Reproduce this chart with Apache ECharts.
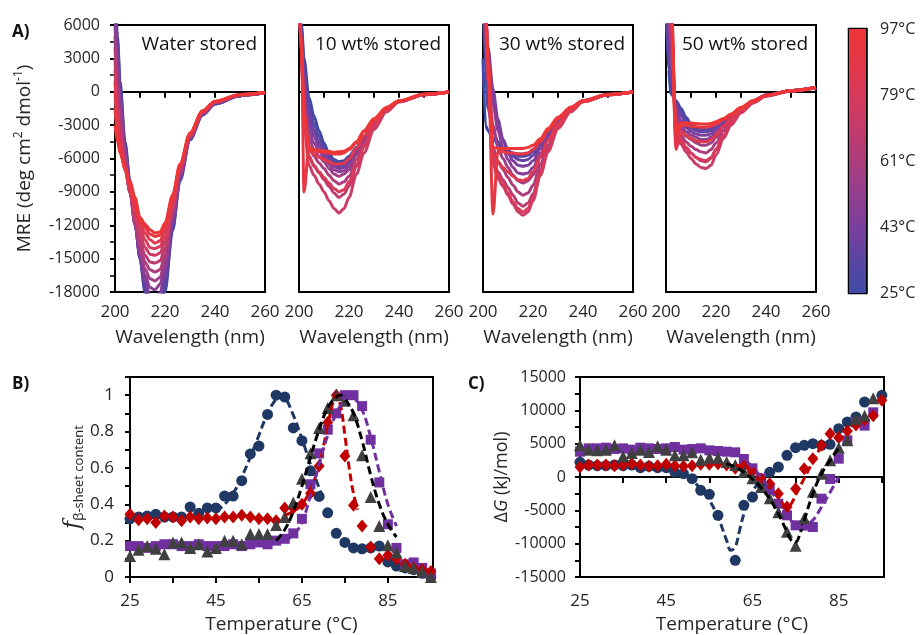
<!DOCTYPE html>
<html>
<head>
<meta charset="utf-8">
<script src="https://cdn.jsdelivr.net/npm/echarts@6/dist/echarts.min.js"></script>
<style>
  html, body { margin: 0; background: #fff; }
  #chart { width: 920px; height: 635px; }
</style>
</head>
<body>
<div id="chart"></div>
<script>
// ---- panel A: CD spectra, one curve per temperature ----
var wavelength = [200, 201, 202, 204, 206, 208, 210, 212, 214, 216, 218, 220, 223, 226, 230, 235, 240, 250, 260];
var cdTemps = [25, 31, 37, 43, 49, 55, 61, 67, 73, 79, 85, 91, 97];
var colorbarTicks = [25, 43, 61, 79, 97];

var waterStored = [
  [9000, 5000, 1000, -4500, -8000, -11500, -15000, -18000, -20000, -20500, -20000, -18000, -12500, -8000, -4300, -2100, -1100, -350, -100],
  [8500, 4500, 500, -4800, -8300, -11700, -15000, -17800, -19600, -20000, -19500, -17500, -12300, -7900, -4300, -2100, -1100, -350, -100],
  [8000, 4000, 0, -5000, -8500, -11800, -14900, -17400, -19000, -19300, -18800, -16900, -12000, -7700, -4200, -2050, -1050, -330, -100],
  [7000, 3000, -500, -5200, -8700, -11900, -14800, -17000, -18400, -18600, -18100, -16300, -11700, -7600, -4200, -2000, -1000, -320, -90],
  [6000, 2000, -1200, -5500, -8900, -12000, -14600, -16500, -17600, -17800, -17300, -15700, -11400, -7500, -4100, -2000, -1000, -310, -90],
  [5000, 1000, -2000, -5800, -9000, -11900, -14200, -15900, -16800, -17000, -16700, -15200, -11100, -7300, -4100, -1950, -980, -300, -80],
  [4000, 0, -2800, -6100, -9100, -11700, -13800, -15300, -16000, -16200, -16000, -14700, -10800, -7200, -4000, -1900, -960, -290, -80],
  [3000, -1000, -3500, -6500, -9100, -11400, -13300, -14700, -15300, -15400, -15200, -14100, -10600, -7000, -3950, -1880, -940, -280, -70],
  [2000, -1800, -4000, -6900, -9000, -11000, -12700, -14000, -14600, -14700, -14500, -13500, -10300, -6900, -3900, -1850, -920, -270, -70],
  [1000, -2500, -4500, -7000, -8800, -10700, -12200, -13300, -14000, -14100, -13900, -13000, -10000, -6800, -3850, -1800, -900, -260, -60],
  [0, -3200, -4900, -7000, -8600, -10300, -11800, -12700, -13300, -13600, -13400, -12500, -9700, -6700, -3800, -1780, -880, -260, -60],
  [-1500, -3800, -5200, -6900, -8300, -9900, -11500, -12200, -12800, -13000, -12900, -12100, -9500, -6600, -3750, -1750, -870, -250, -50],
  [-3000, -4500, -5500, -6800, -8000, -9500, -11300, -11900, -12400, -12700, -12600, -11800, -9300, -6500, -3700, -1700, -850, -250, -50]
];
var stored10 = [
  [9000, 6000, 3000, -500, -2200, -3500, -4600, -5600, -6100, -6300, -6200, -5800, -5000, -4000, -2800, -1600, -850, -250, -30],
  [9000, 5500, 2200, -1200, -2900, -4000, -5000, -5800, -6300, -6500, -6400, -6000, -5100, -4100, -2850, -1600, -850, -250, -30],
  [9000, 5000, 1500, -2000, -3500, -4500, -5300, -6000, -6500, -6700, -6600, -6200, -5200, -4150, -2900, -1650, -870, -250, -30],
  [9000, 4500, 800, -2800, -4000, -4900, -5600, -6200, -6700, -6900, -6800, -6400, -5300, -4200, -2900, -1650, -870, -250, -30],
  [9000, 4000, 0, -3500, -4600, -5300, -5900, -6500, -7000, -7200, -7100, -6700, -5500, -4300, -2950, -1700, -880, -260, -30],
  [9000, 3500, -800, -4200, -5200, -5800, -6300, -6900, -7400, -7600, -7400, -7000, -5700, -4400, -3000, -1700, -880, -260, -30],
  [9000, 3200, -1500, -5000, -5800, -6400, -6900, -7500, -8000, -8300, -8100, -7600, -6100, -4700, -3100, -1750, -900, -260, -30],
  [9000, 3000, -2500, -5800, -6700, -7300, -7900, -8500, -9100, -9500, -9200, -8500, -6700, -5000, -3200, -1750, -900, -260, -30],
  [9000, 3000, -3000, -6600, -7500, -8300, -9000, -9800, -10500, -10900, -10500, -9500, -7400, -5500, -3400, -1800, -900, -270, -30],
  [9000, 3500, -2500, -5800, -6600, -7200, -7700, -8200, -8700, -9000, -8800, -8100, -6500, -4900, -3100, -1700, -880, -260, -30],
  [9000, 4000, -2000, -5200, -5600, -5900, -6100, -6300, -6500, -6500, -6400, -6000, -5100, -4000, -2700, -1550, -850, -240, -25],
  [9000, 4000, -9000, -5000, -5300, -5400, -5450, -5500, -5600, -5600, -5500, -5200, -4600, -3600, -2500, -1450, -820, -220, -20],
  [9000, 4000, -2000, -5000, -5200, -5300, -5300, -5350, -5450, -5400, -5350, -5100, -4500, -3500, -2400, -1400, -800, -200, -20]
];
var stored30 = [
  [3000, -3000, -3500, -4200, -4700, -5100, -5400, -5500, -5600, -5600, -5500, -5200, -4500, -3600, -2500, -1500, -800, -250, -30],
  [9000, 2000, -1500, -3500, -4500, -5100, -5500, -5700, -5800, -5800, -5700, -5400, -4600, -3700, -2550, -1500, -800, -250, -30],
  [9000, 6000, 2500, -1000, -3000, -4300, -5200, -5800, -6100, -6200, -6100, -5700, -4800, -3800, -2600, -1550, -820, -250, -30],
  [9000, 7000, 4000, 200, -2500, -4300, -5500, -6200, -6600, -6700, -6600, -6200, -5100, -4000, -2700, -1600, -830, -260, -30],
  [9000, 6000, 3000, -1000, -3500, -5000, -6100, -6800, -7300, -7400, -7300, -6800, -5500, -4200, -2800, -1600, -850, -260, -30],
  [9000, 5000, 1500, -3000, -5000, -6000, -6800, -7500, -8000, -8200, -8000, -7500, -5900, -4400, -2900, -1650, -860, -260, -30],
  [9000, 6000, 1000, -5000, -6300, -7000, -7700, -8400, -9000, -9300, -9100, -8400, -6500, -4800, -3100, -1700, -870, -270, -30],
  [9000, 7000, 1000, -6000, -7200, -7900, -8600, -9300, -10000, -10300, -10000, -9200, -7000, -5100, -3200, -1750, -880, -270, -30],
  [9000, 8000, 2000, -6500, -7800, -8500, -9300, -10100, -10800, -11100, -10800, -9800, -7500, -5400, -3300, -1800, -900, -280, -30],
  [9000, 8000, 2000, -6200, -7500, -8300, -9100, -9900, -10500, -10800, -10500, -9500, -7300, -5300, -3300, -1800, -900, -280, -30],
  [9000, 8000, 2500, -5600, -6300, -6800, -7200, -7600, -7900, -8000, -7800, -7200, -5800, -4400, -2900, -1650, -860, -260, -30],
  [9000, 8000, 3000, -11000, -5300, -5400, -5500, -5500, -5600, -5600, -5500, -5200, -4500, -3500, -2450, -1450, -820, -240, -25],
  [9000, 8000, 3000, -5000, -5100, -5100, -5100, -5100, -5100, -5100, -5000, -4800, -4200, -3300, -2300, -1400, -800, -230, -20]
];
var stored50 = [
  [8000, 2000, -200, -800, -1500, -2300, -2900, -3200, -3300, -3300, -3200, -3000, -2600, -2100, -1500, -800, -300, 100, 400],
  [8500, 3000, 500, -900, -1700, -2500, -3000, -3300, -3400, -3400, -3300, -3100, -2650, -2100, -1500, -800, -300, 100, 400],
  [9000, 5000, 1500, -1200, -2100, -2800, -3300, -3500, -3600, -3600, -3500, -3200, -2700, -2150, -1500, -800, -300, 100, 400],
  [9000, 6000, 2500, -1500, -2600, -3200, -3600, -3800, -3900, -3900, -3800, -3400, -2800, -2200, -1550, -820, -320, 100, 400],
  [9000, 7000, 3500, -2000, -3000, -3600, -3900, -4100, -4300, -4300, -4100, -3700, -3000, -2300, -1600, -850, -330, 90, 380],
  [9000, 8000, 4500, -2500, -3400, -4000, -4300, -4600, -4800, -4800, -4600, -4100, -3200, -2400, -1650, -870, -340, 80, 380],
  [9000, 9000, 5500, -3000, -3900, -4500, -4900, -5200, -5400, -5500, -5200, -4600, -3500, -2600, -1700, -900, -350, 80, 370],
  [9000, 9000, 6500, -3500, -4300, -5000, -5500, -5900, -6200, -6300, -6000, -5200, -3900, -2800, -1800, -950, -370, 70, 370],
  [9000, 9000, 7000, -4000, -4700, -5400, -6000, -6500, -6800, -6900, -6600, -5700, -4200, -3000, -1900, -1000, -380, 70, 360],
  [9000, 9000, 7500, -4500, -4400, -5000, -5500, -5900, -6100, -6200, -5900, -5200, -3900, -2800, -1800, -950, -370, 70, 360],
  [9000, 9000, 8000, -5200, -3600, -3900, -4200, -4400, -4500, -4500, -4300, -3900, -3100, -2400, -1600, -870, -340, 80, 380],
  [9000, 9000, 8500, -4000, -3000, -3000, -3100, -3150, -3200, -3200, -3100, -2900, -2500, -2050, -1450, -800, -310, 90, 390],
  [9000, 9000, 9000, -3500, -2800, -2800, -2800, -2850, -2900, -2900, -2850, -2700, -2400, -2000, -1400, -780, -300, 100, 400]
];
var cdTitles = ['Water stored', '10 wt% stored', '30 wt% stored', '50 wt% stored'];

// ---- panels B and C: melting data ----
var meltTemps = [25, 27, 29, 31, 33, 35, 37, 39, 41, 43, 45, 47, 49, 51, 53, 55, 57, 59, 61, 63,
                 65, 67, 69, 71, 73, 75, 77, 79, 81, 83, 85, 87, 89, 91, 93, 95];

var fNavy = [0.32, 0.33, 0.335, 0.345, 0.33, 0.33, 0.33, 0.385, 0.35, 0.38, 0.38, 0.445, 0.445, 0.53, 0.677, 0.72, 0.894, 1.0, 0.99, 0.82,
             0.75, 0.584, 0.443, 0.353, 0.24, 0.19, 0.16, 0.155, 0.16, 0.17, 0.083, 0.06, 0.05, 0.04, 0.02, 0.0];
var fPurple = [0.17, 0.17, 0.16, 0.17, 0.18, 0.18, 0.17, 0.17, 0.18, 0.17, 0.17, 0.17, 0.18, 0.17, 0.18, 0.19, 0.18, 0.2, 0.21, 0.24,
               0.32, 0.51, 0.68, 0.81, 0.9, 1.0, 1.0, 0.94, 0.755, 0.52, 0.29, 0.16, 0.07, 0.08, 0.05, 0.02];
var fRed = [0.345, 0.315, 0.32, 0.30, 0.335, 0.33, 0.31, 0.33, 0.32, 0.325, 0.32, 0.33, 0.33, 0.34, 0.33, 0.32, 0.32, 0.31, 0.38, 0.38,
            0.40, 0.46, 0.61, 0.85, 1.0, 0.665, 0.395, 0.28, 0.165, 0.10, 0.12, 0.10, 0.07, 0.05, 0.04, 0.03];
var fGray = [0.115, 0.15, 0.17, 0.155, 0.125, 0.19, 0.19, 0.16, 0.18, 0.14, 0.16, 0.20, 0.20, 0.18, 0.237, 0.237, 0.237, 0.286, 0.33, 0.41,
             0.54, 0.68, 0.82, 0.93, 1.0, 0.97, 0.89, 0.67, 0.44, 0.28, 0.175, 0.135, 0.06, 0.05, 0.03, 0.0];

var fitNavyT = [45, 47, 49, 51, 53, 55, 57, 59, 60, 61, 63, 65, 67, 69, 70];
var fitNavy = [0.36, 0.40, 0.46, 0.55, 0.66, 0.78, 0.90, 0.98, 1.0, 0.99, 0.89, 0.76, 0.62, 0.49, 0.43];
var fitRedT = [61, 63, 65, 67, 69, 71, 72, 73, 74, 75, 76, 77, 78];
var fitRed = [0.34, 0.36, 0.40, 0.48, 0.62, 0.83, 0.94, 1.0, 0.94, 0.78, 0.60, 0.46, 0.37];
var fitGrayT = [59, 61, 63, 65, 67, 69, 71, 73, 74, 75, 77, 79, 81, 83, 85, 87];
var fitGray = [0.2, 0.26, 0.36, 0.5, 0.66, 0.81, 0.93, 0.99, 1.0, 0.98, 0.9, 0.75, 0.56, 0.4, 0.29, 0.22];
var fitPurpleT = [61, 63, 65, 67, 69, 71, 73, 75, 76, 77, 79, 81, 83, 85, 87];
var fitPurple = [0.2, 0.23, 0.3, 0.45, 0.62, 0.78, 0.9, 0.98, 1.0, 0.99, 0.92, 0.77, 0.58, 0.4, 0.28];

var gNavy = [2200, 1800, 1700, 1700, 1800, 1700, 1800, 1400, 1600, 1400, 1400, 700, 500, -250, -2000, -2600, -5750, null, -12500, -4250,
             -3000, -1000, 700, 1500, 3250, 4400, 4750, 5000, 4750, 4900, 7250, 8250, 9000, 11250, null, 12250];
var gPurple = [3800, 4300, 4300, 4400, 4200, 4300, 4100, 4400, 4300, 4200, 4300, 4500, 4100, 4200, 4300, 4000, 3900, 3800, 3700, 2700,
               1300, -200, -1900, -4000, -5750, -7250, -7300, -7500, -3250, -300, 2750, 5500, 8200, 7700, 9700, null];
var gRed = [1500, 1800, 1800, 1800, 1700, 1800, 2000, 1800, 1600, 1700, 1900, 1700, 1600, 1700, 1900, 1900, 2000, 1800, 1300, 1600,
            800, -300, -1000, -2500, -4500, -1750, 1250, 2750, 4750, 6500, 5900, 6900, 7800, 8600, 9200, 11500];
var gGray = [4750, 4100, 4000, 4100, 4750, 3100, 3600, 4100, 3750, 4600, 4100, 3250, 3250, 3700, 2600, 2900, 2900, 2250, 1800, 800,
             -200, -1500, -3200, -5300, -8200, -10300, -6200, -2200, 500, 2500, 4400, 5500, 8700, 9200, 11800, null];

var gFitNavyT = [47, 49, 51, 53, 55, 57, 59, 60, 61, 62, 63, 64, 65, 66, 67];
var gFitNavy = [700, 300, -500, -1800, -3500, -6000, -9500, -11000, -10500, -8000, -5500, -3500, -2300, -1200, -500];
var gFitRedT = [61, 63, 65, 67, 69, 71, 72, 73, 74, 75, 77, 79, 81];
var gFitRed = [1800, 1500, 800, -200, -1500, -3000, -4000, -4500, -4000, -2700, -200, 2300, 4700];
var gFitGrayT = [59, 61, 63, 65, 67, 69, 71, 73, 74, 75, 76, 77, 79, 81, 83, 85];
var gFitGray = [2000, 1500, 700, -300, -1600, -3300, -5500, -8200, -9500, -9800, -8500, -6500, -2500, 500, 2500, 4300];
var gFitPurpleT = [59, 61, 63, 65, 67, 69, 71, 73, 75, 76, 77, 79, 81, 83, 85];
var gFitPurple = [3900, 3600, 2700, 1500, 0, -1800, -3800, -5800, -7200, -7600, -7400, -6500, -4500, -2300, 0];

// ---- styling ----
var FONT = 'Open Sans';
var TXT = '#262626';
var barStops = ['#3d4ba6', '#7a3f9f', '#ad3d7d', '#d83a5a', '#ef3636'];
var NAVY = '#1f3864', RED = '#c00000', GRAY = '#404040', PURPLE = '#7030a0';

function tempColor(t) {
  return echarts.color.lerp((t - 25) / (97 - 25), barStops);
}
function pairs(xs, ys) {
  var out = [];
  for (var i = 0; i < xs.length; i++) {
    if (ys[i] !== null) out.push([xs[i], ys[i]]);
  }
  return out;
}
function plain(v) { return String(v); }
var blackLine = { color: '#000', width: 2 };

var cdLeft = [115, 299, 483, 666];
var grids = [], xAxes = [], yAxes = [], series = [], graphics = [];

cdLeft.forEach(function (left, p) {
  grids.push({ left: left, top: 25, width: 150, height: 267, show: true, borderColor: '#000', borderWidth: 2 });
  xAxes.push({
    gridIndex: p, type: 'value', min: 200, max: 260, interval: 10,
    axisLine: { lineStyle: blackLine }, axisTick: { length: 6, lineStyle: blackLine },
    axisLabel: { margin: 12, fontSize: 17, color: TXT, fontFamily: FONT,
      formatter: function (v) { return v % 20 === 0 ? String(v) : ''; } },
    splitLine: { show: false },
    name: 'Wavelength (nm)', nameLocation: 'middle', nameGap: 36,
    nameTextStyle: { fontSize: 19, color: TXT, fontFamily: FONT }
  });
  var y = {
    gridIndex: p, type: 'value', min: -18000, max: 6000, interval: 3000,
    axisLine: { lineStyle: blackLine },
    axisTick: { show: p === 0, length: 5, lineStyle: blackLine },
    minorTick: { show: p === 0, splitNumber: 2, length: 5, lineStyle: { color: '#000', width: 1.5 } },
    axisLabel: { show: p === 0, margin: 15, fontSize: 16, color: TXT, fontFamily: FONT, formatter: plain },
    splitLine: { show: false }
  };
  if (p === 0) {
    y.name = '{a|MRE (deg cm}{s|2}{a| dmol}{s|-1}{a|)}';
    y.nameLocation = 'middle';
    y.nameGap = 78;
    y.nameTextStyle = { rich: {
      a: { fontSize: 19, color: TXT, fontFamily: FONT, lineHeight: 24 },
      s: { fontSize: 12, color: TXT, fontFamily: FONT, lineHeight: 12, verticalAlign: 'top' }
    } };
  }
  yAxes.push(y);
  graphics.push({ type: 'text', x: left + 142, y: 45, style: {
    text: cdTitles[p], fontSize: 19, fontFamily: FONT, fill: '#111', align: 'right', verticalAlign: 'middle' } });
});

[waterStored, stored10, stored30, stored50].forEach(function (curves, p) {
  curves.forEach(function (vals, k) {
    series.push({
      type: 'line', xAxisIndex: p, yAxisIndex: p, data: pairs(wavelength, vals),
      showSymbol: false, smooth: 0.3, smoothMonotone: 'x', silent: true,
      lineStyle: { width: 3, color: tempColor(cdTemps[k]) }
    });
  });
});

// colour bar (grid 4)
grids.push({ left: 849, top: 29, width: 17, height: 264, show: true, borderColor: '#000', borderWidth: 2.5 });
xAxes.push({ gridIndex: 4, type: 'category', data: [''], show: false });
yAxes.push({
  gridIndex: 4, type: 'value', position: 'right', min: 25, max: 97, interval: 18,
  axisLine: { show: true, lineStyle: { color: '#000', width: 2.5 } },
  axisTick: { length: 6, lineStyle: blackLine },
  axisLabel: { margin: 14, fontSize: 16, color: TXT, fontFamily: FONT, formatter: '{value}°C', padding: [0, 0, 6, 0] },
  splitLine: { show: false }
});
series.push({
  type: 'bar', xAxisIndex: 4, yAxisIndex: 4, data: [colorbarTicks[colorbarTicks.length - 1]],
  barWidth: '100%', silent: true,
  itemStyle: { color: new echarts.graphic.LinearGradient(0, 1, 0, 0, barStops.map(function (c, i) {
    return { offset: i / (barStops.length - 1), color: c };
  })) }
});

// panels B (grid 5) and C (grid 6)
function tempAxis(g) {
  return {
    gridIndex: g, type: 'value', min: 25, max: 95.5, interval: 10,
    axisLine: { lineStyle: blackLine }, axisTick: { length: 6, lineStyle: blackLine },
    axisLabel: { margin: 16, fontSize: 17, color: TXT, fontFamily: FONT,
      formatter: function (v) { return (v - 25) % 20 === 0 ? String(v) : ''; } },
    splitLine: { show: false },
    name: 'Temperature (°C)', nameLocation: 'middle', nameGap: 38,
    nameTextStyle: { fontSize: 19, color: TXT, fontFamily: FONT }
  };
}
grids.push({ left: 130, top: 377, width: 303, height: 201, show: true, borderColor: '#000', borderWidth: 2 });
grids.push({ left: 580, top: 377, width: 304, height: 200, show: true, borderColor: '#000', borderWidth: 2 });
xAxes.push(tempAxis(5), tempAxis(6));
yAxes.push({
  gridIndex: 5, type: 'value', min: 0, max: 1.1, interval: 0.1,
  axisLine: { lineStyle: blackLine }, axisTick: { length: 5, lineStyle: blackLine },
  axisLabel: { margin: 16, fontSize: 17, color: TXT, fontFamily: FONT,
    formatter: function (v) { var k = Math.round(v * 10); return (k % 2 === 0 && k <= 10) ? String(k / 10) : ''; } },
  splitLine: { show: false },
  name: '{i|f}{s|β-sheet content}', nameLocation: 'middle', nameGap: 40,
  nameTextStyle: { rich: {
    i: { fontSize: 22, fontStyle: 'italic', fontFamily: 'DejaVu Serif', color: TXT, lineHeight: 26 },
    s: { fontSize: 13, fontFamily: FONT, color: TXT, lineHeight: 13, verticalAlign: 'bottom' }
  } }
});
yAxes.push({
  gridIndex: 6, type: 'value', min: -15000, max: 15000, interval: 2500,
  axisLine: { lineStyle: blackLine }, axisTick: { length: 5, lineStyle: blackLine },
  axisLabel: { margin: 14, fontSize: 16, color: TXT, fontFamily: FONT,
    formatter: function (v) { return v % 5000 === 0 ? String(v) : ''; } },
  splitLine: { show: false },
  name: '{a|Δ}{i|G}{a| (kJ/mol)}', nameLocation: 'middle', nameGap: 68,
  nameTextStyle: { rich: {
    a: { fontSize: 18, fontFamily: FONT, color: TXT },
    i: { fontSize: 18, fontFamily: FONT, fontStyle: 'italic', color: TXT }
  } }
});

function scatter(g, ys, symbol, size, color) {
  return { type: 'scatter', xAxisIndex: g, yAxisIndex: g, data: pairs(meltTemps, ys),
    symbol: symbol, symbolSize: size, itemStyle: { color: color, opacity: 1 }, silent: true };
}
function fit(g, xs, ys, color) {
  return { type: 'line', xAxisIndex: g, yAxisIndex: g, data: pairs(xs, ys), showSymbol: false,
    smooth: 0.4, silent: true, z: 3, lineStyle: { color: color, width: 3, type: [8, 4] } };
}
series.push(
  scatter(5, fNavy, 'circle', 11, NAVY), scatter(5, fPurple, 'rect', 10, PURPLE),
  scatter(5, fRed, 'diamond', [11, 13], RED), scatter(5, fGray, 'triangle', 12, GRAY),
  fit(5, fitNavyT, fitNavy, NAVY), fit(5, fitRedT, fitRed, RED),
  fit(5, fitGrayT, fitGray, '#000'), fit(5, fitPurpleT, fitPurple, PURPLE),
  scatter(6, gNavy, 'circle', 11, NAVY), scatter(6, gPurple, 'rect', 10, PURPLE),
  scatter(6, gRed, 'diamond', [11, 13], RED), scatter(6, gGray, 'triangle', 12, GRAY),
  fit(6, gFitNavyT, gFitNavy, NAVY), fit(6, gFitRedT, gFitRed, RED),
  fit(6, gFitGrayT, gFitGray, '#000'), fit(6, gFitPurpleT, gFitPurple, PURPLE)
);

// panel letters
[['A)', 12, 32], ['B)', 12, 384], ['C)', 468, 384]].forEach(function (l) {
  graphics.push({ type: 'text', x: l[1], y: l[2], style: {
    text: l[0], fontSize: 17, fontWeight: 'bold', fontFamily: FONT, fill: '#111', verticalAlign: 'middle' } });
});

var chart = echarts.init(document.getElementById('chart'));
chart.setOption({
  animation: false,
  textStyle: { fontFamily: FONT },
  grid: grids, xAxis: xAxes, yAxis: yAxes,
  series: series,
  graphic: graphics
});
</script>
</body>
</html>
